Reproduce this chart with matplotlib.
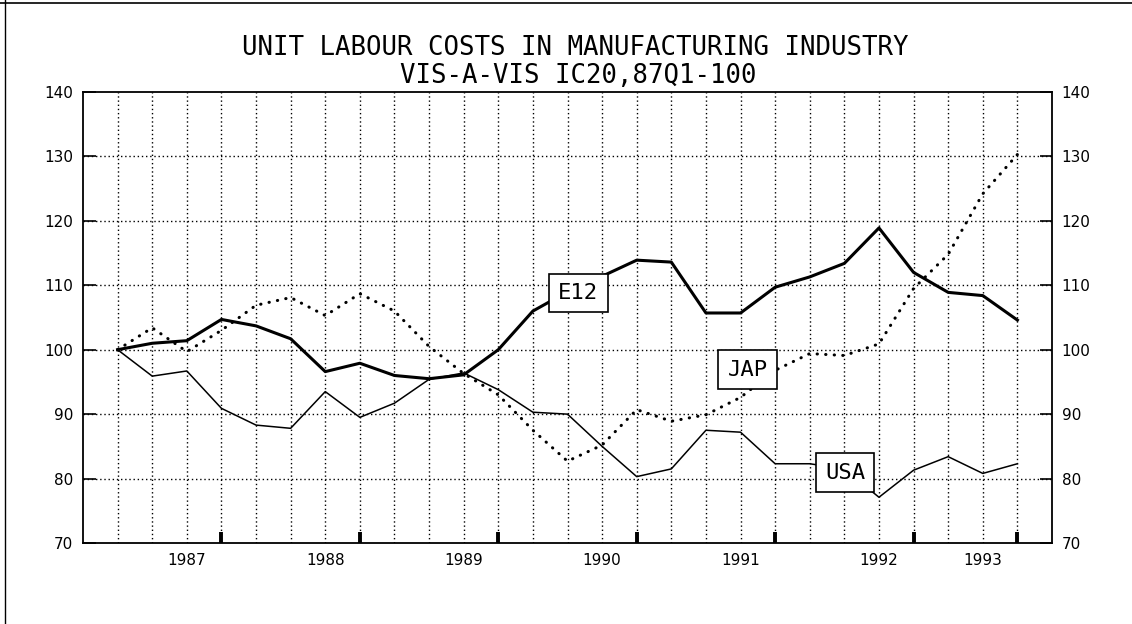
import matplotlib
matplotlib.use("Agg")
import matplotlib.pyplot as plt
from matplotlib.lines import Line2D

# ── data (quarterly, 87Q1 .. 93Q3, index 87Q1 = 100) ─────────────────────────
quarters = list(range(27))
e12 = [100.0, 101.0, 101.4, 104.7, 103.7, 101.7, 96.6, 97.9, 96.0, 95.5,
       96.1, 100.0, 106.0, 109.0, 111.4, 113.9, 113.6, 105.7, 105.7, 109.7,
       111.3, 113.4, 118.9, 112.0, 108.9, 108.4, 104.6]
usa = [100.0, 95.9, 96.7, 90.9, 88.3, 87.8, 93.5, 89.5, 91.7, 95.4,
       96.4, 93.8, 90.3, 90.0, 85.0, 80.3, 81.5, 87.5, 87.2, 82.3,
       82.3, 81.5, 77.1, 81.3, 83.4, 80.8, 82.3]
jap = [100.0, 103.4, 99.7, 103.0, 106.9, 108.1, 105.3, 108.7, 106.0, 100.5,
       96.3, 93.0, 87.5, 82.7, 85.2, 90.7, 88.9, 89.9, 92.6, 96.8,
       99.4, 99.1, 100.9, 109.5, 114.8, 124.2, 130.3]

year_labels = ["1987", "1988", "1989", "1990", "1991", "1992", "1993"]
year_label_pos = [2, 6, 10, 14, 18, 22, 25]
year_tick_pos = [3, 7, 11, 15, 19, 23, 26]
y_ticks = [70, 80, 90, 100, 110, 120, 130, 140]

# series tags: (text, x, y)
tags = [("E12", 13.31, 108.8), ("JAP", 18.21, 96.9), ("USA", 21.02, 80.9)]

mono = "DejaVu Sans Mono"

# ── figure ────────────────────────────────────────────────────────────────────
fig = plt.figure(figsize=(11.32, 6.24), dpi=100)
ax = fig.add_axes([83 / 1132, 1 - 543 / 624, 969 / 1132, 451 / 624])
ax.set_xlim(-1, 27)
ax.set_ylim(70, 140)

# dotted grid
grid_style = dict(colors="black", linewidth=1.0, linestyles=(0, (1, 2)), zorder=1)
ax.vlines(quarters, 70, 140, **grid_style)
ax.hlines(y_ticks[1:-1], -1, 27, **grid_style)

# series
ax.plot(quarters, usa, color="black", linewidth=1.1, zorder=3)
ax.plot(quarters, e12, color="black", linewidth=2.2, zorder=4)
ax.plot(quarters, jap, color="black", linewidth=2.2, zorder=3,
        linestyle=(0, (0.1, 2.7)), dash_capstyle="round")

# tags in boxes
for txt, x, y in tags:
    ax.text(x, y, txt, family=mono, fontsize=16, ha="center", va="center",
            zorder=6,
            bbox=dict(boxstyle="square,pad=0.42", facecolor="white",
                      edgecolor="black", linewidth=1.2))

# axes frame & ticks
for sp in ax.spines.values():
    sp.set_linewidth(1.3)

ax.set_yticks(y_ticks)
ax.tick_params(axis="y", direction="in", length=9, width=1.2,
               left=True, right=True, labelleft=True, labelright=True,
               labelsize=11, pad=7)

ax.set_xticks(year_tick_pos)
ax.set_xticklabels([])
ax.tick_params(axis="x", which="major", direction="in", length=8, width=2.8)
ax.set_xticks(year_label_pos, minor=True)
ax.set_xticklabels(year_labels, minor=True)
ax.tick_params(axis="x", which="minor", length=0, labelsize=11, pad=7)

# title
fig.text(575 / 1132, 1 - 48 / 624, "UNIT LABOUR COSTS IN MANUFACTURING INDUSTRY",
         family=mono, fontsize=18.5, ha="center", va="center")
fig.text(578 / 1132, 1 - 76 / 624, "VIS-A-VIS IC20,87Q1-100",
         family=mono, fontsize=18.5, ha="center", va="center")

# page border (top and left edge of the scan)
fig.add_artist(Line2D([0, 1], [1 - 2.5 / 624, 1 - 2.5 / 624],
                      transform=fig.transFigure, color="black", linewidth=1.2))
fig.add_artist(Line2D([5 / 1132, 5 / 1132], [0, 1],
                      transform=fig.transFigure, color="black", linewidth=1.0))

fig.savefig("out.png", dpi=100)
